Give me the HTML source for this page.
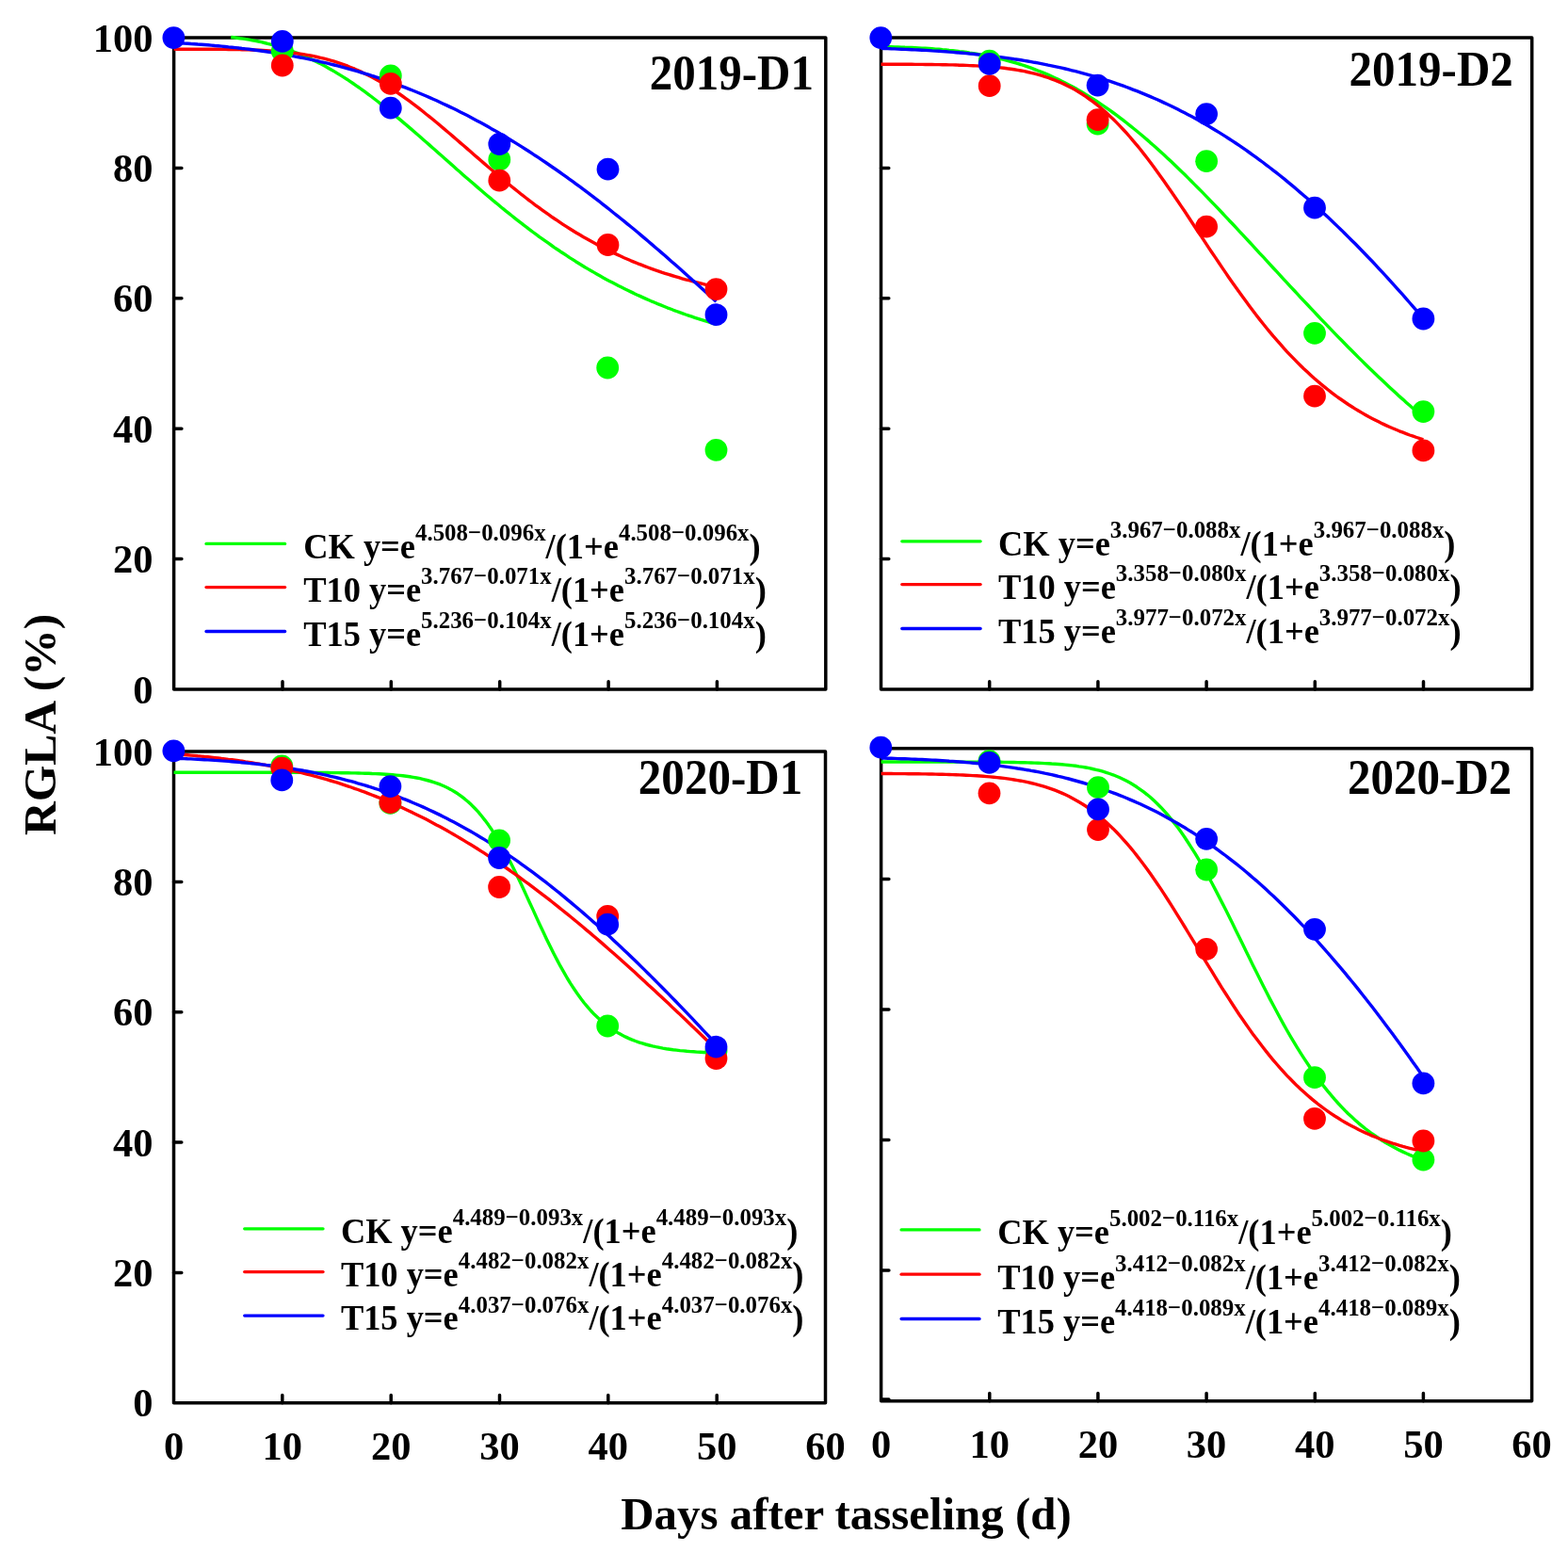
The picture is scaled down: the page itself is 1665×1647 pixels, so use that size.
<!DOCTYPE html>
<html><head><meta charset="utf-8"><title>RGLA</title><style>html,body{margin:0;padding:0;background:#fff;}body{width:1665px;height:1647px;overflow:hidden;}svg{display:block;}</style></head><body>
<svg width="1665" height="1647" viewBox="0 0 1665 1647">
<rect width="1665" height="1647" fill="#fff"/>
<path d="M184.6,593.6h8.3 M184.6,455.2h8.3 M184.6,316.8h8.3 M184.6,178.4h8.3 M300.0,732.0v-8.3 M415.3,732.0v-8.3 M530.7,732.0v-8.3 M646.1,732.0v-8.3 M761.4,732.0v-8.3" stroke="#000" stroke-width="3.5" stroke-linecap="round" fill="none"/>
<rect x="184.6" y="40.0" width="692.2" height="692.0" fill="none" stroke="#000" stroke-width="3.5" stroke-linejoin="round"/>
<path d="M935.5,593.6h8.3 M935.5,455.2h8.3 M935.5,316.8h8.3 M935.5,178.4h8.3 M1050.7,732.0v-8.3 M1165.9,732.0v-8.3 M1281.1,732.0v-8.3 M1396.3,732.0v-8.3 M1511.5,732.0v-8.3" stroke="#000" stroke-width="3.5" stroke-linecap="round" fill="none"/>
<rect x="935.5" y="40.0" width="691.2" height="692.0" fill="none" stroke="#000" stroke-width="3.5" stroke-linejoin="round"/>
<path d="M184.5,1351.4h8.3 M184.5,1213.1h8.3 M184.5,1074.7h8.3 M184.5,936.4h8.3 M299.8,1489.8v-8.3 M415.2,1489.8v-8.3 M530.5,1489.8v-8.3 M645.8,1489.8v-8.3 M761.2,1489.8v-8.3" stroke="#000" stroke-width="3.5" stroke-linecap="round" fill="none"/>
<rect x="184.5" y="798.0" width="692.0" height="691.8" fill="none" stroke="#000" stroke-width="3.5" stroke-linejoin="round"/>
<path d="M935.6,1349.1h8.3 M935.6,1210.5h8.3 M935.6,1072.0h8.3 M935.6,933.4h8.3 M1050.8,1487.7v-8.3 M1165.9,1487.7v-8.3 M1281.1,1487.7v-8.3 M1396.3,1487.7v-8.3 M1511.4,1487.7v-8.3 M935.6,1486.1h8.3" stroke="#000" stroke-width="3.5" stroke-linecap="round" fill="none"/>
<rect x="935.6" y="794.8" width="691.0" height="692.9" fill="none" stroke="#000" stroke-width="3.5" stroke-linejoin="round"/>
<text x="162.5" y="746.6" font-size="42.5" text-anchor="end" font-family="'Liberation Serif','Times New Roman',serif" font-weight="bold" >0</text>
<text x="162.5" y="608.2" font-size="42.5" text-anchor="end" font-family="'Liberation Serif','Times New Roman',serif" font-weight="bold" >20</text>
<text x="162.5" y="469.8" font-size="42.5" text-anchor="end" font-family="'Liberation Serif','Times New Roman',serif" font-weight="bold" >40</text>
<text x="162.5" y="331.4" font-size="42.5" text-anchor="end" font-family="'Liberation Serif','Times New Roman',serif" font-weight="bold" >60</text>
<text x="162.5" y="193.0" font-size="42.5" text-anchor="end" font-family="'Liberation Serif','Times New Roman',serif" font-weight="bold" >80</text>
<text x="162.5" y="54.6" font-size="42.5" text-anchor="end" font-family="'Liberation Serif','Times New Roman',serif" font-weight="bold" >100</text>
<text x="162.5" y="1504.4" font-size="42.5" text-anchor="end" font-family="'Liberation Serif','Times New Roman',serif" font-weight="bold" >0</text>
<text x="162.5" y="1366.1" font-size="42.5" text-anchor="end" font-family="'Liberation Serif','Times New Roman',serif" font-weight="bold" >20</text>
<text x="162.5" y="1227.7" font-size="42.5" text-anchor="end" font-family="'Liberation Serif','Times New Roman',serif" font-weight="bold" >40</text>
<text x="162.5" y="1089.3" font-size="42.5" text-anchor="end" font-family="'Liberation Serif','Times New Roman',serif" font-weight="bold" >60</text>
<text x="162.5" y="951.0" font-size="42.5" text-anchor="end" font-family="'Liberation Serif','Times New Roman',serif" font-weight="bold" >80</text>
<text x="162.5" y="812.6" font-size="42.5" text-anchor="end" font-family="'Liberation Serif','Times New Roman',serif" font-weight="bold" >100</text>
<text x="184.5" y="1549.9" font-size="42.5" text-anchor="middle" font-family="'Liberation Serif','Times New Roman',serif" font-weight="bold" >0</text>
<text x="299.8" y="1549.9" font-size="42.5" text-anchor="middle" font-family="'Liberation Serif','Times New Roman',serif" font-weight="bold" >10</text>
<text x="415.2" y="1549.9" font-size="42.5" text-anchor="middle" font-family="'Liberation Serif','Times New Roman',serif" font-weight="bold" >20</text>
<text x="530.5" y="1549.9" font-size="42.5" text-anchor="middle" font-family="'Liberation Serif','Times New Roman',serif" font-weight="bold" >30</text>
<text x="645.8" y="1549.9" font-size="42.5" text-anchor="middle" font-family="'Liberation Serif','Times New Roman',serif" font-weight="bold" >40</text>
<text x="761.2" y="1549.9" font-size="42.5" text-anchor="middle" font-family="'Liberation Serif','Times New Roman',serif" font-weight="bold" >50</text>
<text x="876.5" y="1549.9" font-size="42.5" text-anchor="middle" font-family="'Liberation Serif','Times New Roman',serif" font-weight="bold" >60</text>
<text x="935.6" y="1548.2" font-size="42.5" text-anchor="middle" font-family="'Liberation Serif','Times New Roman',serif" font-weight="bold" >0</text>
<text x="1050.8" y="1548.2" font-size="42.5" text-anchor="middle" font-family="'Liberation Serif','Times New Roman',serif" font-weight="bold" >10</text>
<text x="1165.9" y="1548.2" font-size="42.5" text-anchor="middle" font-family="'Liberation Serif','Times New Roman',serif" font-weight="bold" >20</text>
<text x="1281.1" y="1548.2" font-size="42.5" text-anchor="middle" font-family="'Liberation Serif','Times New Roman',serif" font-weight="bold" >30</text>
<text x="1396.3" y="1548.2" font-size="42.5" text-anchor="middle" font-family="'Liberation Serif','Times New Roman',serif" font-weight="bold" >40</text>
<text x="1511.4" y="1548.2" font-size="42.5" text-anchor="middle" font-family="'Liberation Serif','Times New Roman',serif" font-weight="bold" >50</text>
<text x="1626.6" y="1548.2" font-size="42.5" text-anchor="middle" font-family="'Liberation Serif','Times New Roman',serif" font-weight="bold" >60</text>
<text transform="translate(863.94,95.00) scale(0.925,1)" font-size="53.0" text-anchor="end" font-family="'Liberation Serif','Times New Roman',serif" font-weight="bold" >2019-D1</text>
<text transform="translate(1606.81,90.60) scale(0.925,1)" font-size="53.0" text-anchor="end" font-family="'Liberation Serif','Times New Roman',serif" font-weight="bold" >2019-D2</text>
<text transform="translate(852.14,843.00) scale(0.925,1)" font-size="53.0" text-anchor="end" font-family="'Liberation Serif','Times New Roman',serif" font-weight="bold" >2020-D1</text>
<text transform="translate(1605.31,842.60) scale(0.925,1)" font-size="53.0" text-anchor="end" font-family="'Liberation Serif','Times New Roman',serif" font-weight="bold" >2020-D2</text>
<path d="M219.0,577.4H302.6" stroke="#00ff00" stroke-width="3.3" stroke-linecap="round"/>
<text transform="translate(322.20,592.70) scale(0.958,1)" font-size="38.0" text-anchor="start" font-family="'Liberation Serif','Times New Roman',serif" font-weight="bold" >CK y=e<tspan font-size="26.0" dy="-18.8">4.508−0.096x</tspan><tspan dy="18.8">/(1+e</tspan><tspan font-size="26.0" dy="-18.8">4.508−0.096x</tspan><tspan dy="18.8">)</tspan></text>
<path d="M219.0,623.6H302.6" stroke="#ff0000" stroke-width="3.3" stroke-linecap="round"/>
<text transform="translate(322.20,638.90) scale(0.958,1)" font-size="38.0" text-anchor="start" font-family="'Liberation Serif','Times New Roman',serif" font-weight="bold" >T10 y=e<tspan font-size="26.0" dy="-18.8">3.767−0.071x</tspan><tspan dy="18.8">/(1+e</tspan><tspan font-size="26.0" dy="-18.8">3.767−0.071x</tspan><tspan dy="18.8">)</tspan></text>
<path d="M219.0,670.5H302.6" stroke="#0000ff" stroke-width="3.3" stroke-linecap="round"/>
<text transform="translate(322.20,685.80) scale(0.958,1)" font-size="38.0" text-anchor="start" font-family="'Liberation Serif','Times New Roman',serif" font-weight="bold" >T15 y=e<tspan font-size="26.0" dy="-18.8">5.236−0.104x</tspan><tspan dy="18.8">/(1+e</tspan><tspan font-size="26.0" dy="-18.8">5.236−0.104x</tspan><tspan dy="18.8">)</tspan></text>
<path d="M957.8,574.8H1041.1" stroke="#00ff00" stroke-width="3.3" stroke-linecap="round"/>
<text transform="translate(1060.00,590.10) scale(0.958,1)" font-size="38.0" text-anchor="start" font-family="'Liberation Serif','Times New Roman',serif" font-weight="bold" >CK y=e<tspan font-size="26.0" dy="-18.8">3.967−0.088x</tspan><tspan dy="18.8">/(1+e</tspan><tspan font-size="26.0" dy="-18.8">3.967−0.088x</tspan><tspan dy="18.8">)</tspan></text>
<path d="M957.8,620.6H1041.1" stroke="#ff0000" stroke-width="3.3" stroke-linecap="round"/>
<text transform="translate(1060.00,635.90) scale(0.958,1)" font-size="38.0" text-anchor="start" font-family="'Liberation Serif','Times New Roman',serif" font-weight="bold" >T10 y=e<tspan font-size="26.0" dy="-18.8">3.358−0.080x</tspan><tspan dy="18.8">/(1+e</tspan><tspan font-size="26.0" dy="-18.8">3.358−0.080x</tspan><tspan dy="18.8">)</tspan></text>
<path d="M957.8,667.5H1041.1" stroke="#0000ff" stroke-width="3.3" stroke-linecap="round"/>
<text transform="translate(1060.00,682.80) scale(0.958,1)" font-size="38.0" text-anchor="start" font-family="'Liberation Serif','Times New Roman',serif" font-weight="bold" >T15 y=e<tspan font-size="26.0" dy="-18.8">3.977−0.072x</tspan><tspan dy="18.8">/(1+e</tspan><tspan font-size="26.0" dy="-18.8">3.977−0.072x</tspan><tspan dy="18.8">)</tspan></text>
<path d="M259.7,1304.8H343.0" stroke="#00ff00" stroke-width="3.3" stroke-linecap="round"/>
<text transform="translate(361.90,1320.10) scale(0.958,1)" font-size="38.0" text-anchor="start" font-family="'Liberation Serif','Times New Roman',serif" font-weight="bold" >CK y=e<tspan font-size="26.0" dy="-18.8">4.489−0.093x</tspan><tspan dy="18.8">/(1+e</tspan><tspan font-size="26.0" dy="-18.8">4.489−0.093x</tspan><tspan dy="18.8">)</tspan></text>
<path d="M259.7,1350.6H343.0" stroke="#ff0000" stroke-width="3.3" stroke-linecap="round"/>
<text transform="translate(361.90,1365.90) scale(0.958,1)" font-size="38.0" text-anchor="start" font-family="'Liberation Serif','Times New Roman',serif" font-weight="bold" >T10 y=e<tspan font-size="26.0" dy="-18.8">4.482−0.082x</tspan><tspan dy="18.8">/(1+e</tspan><tspan font-size="26.0" dy="-18.8">4.482−0.082x</tspan><tspan dy="18.8">)</tspan></text>
<path d="M259.7,1397.1H343.0" stroke="#0000ff" stroke-width="3.3" stroke-linecap="round"/>
<text transform="translate(361.90,1412.40) scale(0.958,1)" font-size="38.0" text-anchor="start" font-family="'Liberation Serif','Times New Roman',serif" font-weight="bold" >T15 y=e<tspan font-size="26.0" dy="-18.8">4.037−0.076x</tspan><tspan dy="18.8">/(1+e</tspan><tspan font-size="26.0" dy="-18.8">4.037−0.076x</tspan><tspan dy="18.8">)</tspan></text>
<path d="M957.1,1305.9H1040.0" stroke="#00ff00" stroke-width="3.3" stroke-linecap="round"/>
<text transform="translate(1059.20,1321.20) scale(0.958,1)" font-size="38.0" text-anchor="start" font-family="'Liberation Serif','Times New Roman',serif" font-weight="bold" >CK y=e<tspan font-size="26.0" dy="-18.8">5.002−0.116x</tspan><tspan dy="18.8">/(1+e</tspan><tspan font-size="26.0" dy="-18.8">5.002−0.116x</tspan><tspan dy="18.8">)</tspan></text>
<path d="M957.1,1353.2H1040.0" stroke="#ff0000" stroke-width="3.3" stroke-linecap="round"/>
<text transform="translate(1059.20,1368.50) scale(0.958,1)" font-size="38.0" text-anchor="start" font-family="'Liberation Serif','Times New Roman',serif" font-weight="bold" >T10 y=e<tspan font-size="26.0" dy="-18.8">3.412−0.082x</tspan><tspan dy="18.8">/(1+e</tspan><tspan font-size="26.0" dy="-18.8">3.412−0.082x</tspan><tspan dy="18.8">)</tspan></text>
<path d="M957.1,1400.5H1040.0" stroke="#0000ff" stroke-width="3.3" stroke-linecap="round"/>
<text transform="translate(1059.20,1415.80) scale(0.958,1)" font-size="38.0" text-anchor="start" font-family="'Liberation Serif','Times New Roman',serif" font-weight="bold" >T15 y=e<tspan font-size="26.0" dy="-18.8">4.418−0.089x</tspan><tspan dy="18.8">/(1+e</tspan><tspan font-size="26.0" dy="-18.8">4.418−0.089x</tspan><tspan dy="18.8">)</tspan></text>
<path d="M245.2,39.5 L248.4,39.8 L251.7,40.2 L254.9,40.7 L258.2,41.1 L261.4,41.6 L264.6,42.2 L267.9,42.8 L271.1,43.4 L274.4,44.0 L277.6,44.7 L280.8,45.5 L284.1,46.3 L287.3,47.1 L290.6,48.0 L293.8,48.9 L297.1,49.9 L300.3,50.9 L303.5,51.9 L306.8,53.1 L310.0,54.2 L313.3,55.5 L316.5,56.7 L319.7,58.1 L323.0,59.4 L326.2,60.9 L329.5,62.4 L332.7,63.9 L335.9,65.5 L339.2,67.1 L342.4,68.8 L345.7,70.6 L348.9,72.4 L352.1,74.2 L355.4,76.1 L358.6,78.1 L361.9,80.1 L365.1,82.1 L368.4,84.2 L371.6,86.4 L374.8,88.5 L378.1,90.8 L381.3,93.0 L384.6,95.4 L387.8,97.7 L391.0,100.1 L394.3,102.5 L397.5,105.0 L400.8,107.5 L404.0,110.1 L407.2,112.6 L410.5,115.2 L413.7,117.9 L417.0,120.5 L420.2,123.2 L423.4,125.9 L426.7,128.6 L429.9,131.4 L433.2,134.1 L436.4,136.9 L439.7,139.7 L442.9,142.5 L446.1,145.3 L449.4,148.2 L452.6,151.0 L455.9,153.9 L459.1,156.7 L462.3,159.6 L465.6,162.5 L468.8,165.3 L472.1,168.2 L475.3,171.1 L478.5,173.9 L481.8,176.8 L485.0,179.7 L488.3,182.5 L491.5,185.4 L494.7,188.2 L498.0,191.0 L501.2,193.8 L504.5,196.6 L507.7,199.4 L511.0,202.2 L514.2,205.0 L517.4,207.7 L520.7,210.4 L523.9,213.2 L527.2,215.8 L530.4,218.5 L533.6,221.2 L536.9,223.8 L540.1,226.4 L543.4,229.0 L546.6,231.6 L549.8,234.1 L553.1,236.7 L556.3,239.2 L559.6,241.6 L562.8,244.1 L566.0,246.5 L569.3,248.9 L572.5,251.3 L575.8,253.6 L579.0,255.9 L582.3,258.2 L585.5,260.5 L588.7,262.8 L592.0,265.0 L595.2,267.2 L598.5,269.3 L601.7,271.4 L604.9,273.6 L608.2,275.6 L611.4,277.7 L614.7,279.7 L617.9,281.7 L621.1,283.7 L624.4,285.6 L627.6,287.5 L630.9,289.4 L634.1,291.3 L637.3,293.1 L640.6,294.9 L643.8,296.7 L647.1,298.4 L650.3,300.1 L653.6,301.8 L656.8,303.5 L660.0,305.1 L663.3,306.7 L666.5,308.3 L669.8,309.9 L673.0,311.4 L676.2,313.0 L679.5,314.4 L682.7,315.9 L686.0,317.4 L689.2,318.8 L692.4,320.2 L695.7,321.5 L698.9,322.9 L702.2,324.2 L705.4,325.5 L708.6,326.8 L711.9,328.0 L715.1,329.3 L718.4,330.5 L721.6,331.7 L724.9,332.8 L728.1,334.0 L731.3,335.1 L734.6,336.2 L737.8,337.3 L741.1,338.4 L744.3,339.4 L747.5,340.4 L750.8,341.4 L754.0,342.4 L757.3,343.4 L760.5,344.4" fill="none" stroke="#00ff00" stroke-width="3.4" stroke-linejoin="round" stroke-linecap="butt"/>
<path d="M184.6,52.1 L188.2,52.2 L191.8,52.2 L195.5,52.2 L199.1,52.2 L202.7,52.2 L206.3,52.2 L210.0,52.2 L213.6,52.2 L217.2,52.2 L220.8,52.2 L224.4,52.3 L228.1,52.3 L231.7,52.3 L235.3,52.4 L238.9,52.4 L242.6,52.5 L246.2,52.5 L249.8,52.6 L253.4,52.6 L257.0,52.7 L260.7,52.8 L264.3,52.9 L267.9,53.0 L271.5,53.2 L275.2,53.3 L278.8,53.5 L282.4,53.7 L286.0,53.9 L289.6,54.1 L293.3,54.4 L296.9,54.7 L300.5,55.0 L304.1,55.4 L307.7,55.8 L311.4,56.2 L315.0,56.7 L318.6,57.2 L322.2,57.7 L325.9,58.4 L329.5,59.0 L333.1,59.7 L336.7,60.5 L340.3,61.3 L344.0,62.2 L347.6,63.1 L351.2,64.2 L354.8,65.2 L358.5,66.4 L362.1,67.6 L365.7,68.9 L369.3,70.2 L372.9,71.7 L376.6,73.2 L380.2,74.8 L383.8,76.4 L387.4,78.2 L391.1,80.0 L394.7,81.8 L398.3,83.8 L401.9,85.8 L405.5,87.9 L409.2,90.1 L412.8,92.4 L416.4,94.7 L420.0,97.1 L423.7,99.5 L427.3,102.0 L430.9,104.6 L434.5,107.2 L438.1,109.9 L441.8,112.7 L445.4,115.4 L449.0,118.3 L452.6,121.2 L456.3,124.1 L459.9,127.0 L463.5,130.0 L467.1,133.0 L470.7,136.1 L474.4,139.2 L478.0,142.3 L481.6,145.4 L485.2,148.5 L488.8,151.6 L492.5,154.8 L496.1,157.9 L499.7,161.1 L503.3,164.2 L507.0,167.4 L510.6,170.5 L514.2,173.6 L517.8,176.7 L521.4,179.8 L525.1,182.9 L528.7,186.0 L532.3,189.0 L535.9,192.0 L539.6,195.0 L543.2,198.0 L546.8,200.9 L550.4,203.8 L554.0,206.7 L557.7,209.5 L561.3,212.3 L564.9,215.0 L568.5,217.8 L572.2,220.4 L575.8,223.1 L579.4,225.7 L583.0,228.2 L586.6,230.8 L590.3,233.2 L593.9,235.7 L597.5,238.1 L601.1,240.4 L604.8,242.7 L608.4,245.0 L612.0,247.2 L615.6,249.3 L619.2,251.5 L622.9,253.6 L626.5,255.6 L630.1,257.6 L633.7,259.5 L637.4,261.5 L641.0,263.3 L644.6,265.1 L648.2,266.9 L651.8,268.7 L655.5,270.4 L659.1,272.0 L662.7,273.7 L666.3,275.2 L669.9,276.8 L673.6,278.3 L677.2,279.8 L680.8,281.2 L684.4,282.6 L688.1,284.0 L691.7,285.3 L695.3,286.6 L698.9,287.8 L702.5,289.1 L706.2,290.3 L709.8,291.4 L713.4,292.5 L717.0,293.6 L720.7,294.7 L724.3,295.8 L727.9,296.8 L731.5,297.7 L735.1,298.7 L738.8,299.6 L742.4,300.5 L746.0,301.4 L749.6,302.3 L753.3,303.1 L756.9,303.9 L760.5,304.7" fill="none" stroke="#ff0000" stroke-width="3.4" stroke-linejoin="round" stroke-linecap="butt"/>
<path d="M184.6,45.3 L188.2,45.5 L191.8,45.7 L195.5,46.0 L199.1,46.2 L202.7,46.5 L206.3,46.7 L210.0,47.0 L213.6,47.2 L217.2,47.5 L220.8,47.8 L224.4,48.1 L228.1,48.5 L231.7,48.8 L235.3,49.1 L238.9,49.5 L242.6,49.9 L246.2,50.2 L249.8,50.6 L253.4,51.0 L257.0,51.5 L260.7,51.9 L264.3,52.3 L267.9,52.8 L271.5,53.3 L275.2,53.8 L278.8,54.3 L282.4,54.8 L286.0,55.3 L289.6,55.9 L293.3,56.5 L296.9,57.1 L300.5,57.7 L304.1,58.3 L307.7,58.9 L311.4,59.6 L315.0,60.3 L318.6,61.0 L322.2,61.7 L325.9,62.4 L329.5,63.2 L333.1,63.9 L336.7,64.7 L340.3,65.6 L344.0,66.4 L347.6,67.2 L351.2,68.1 L354.8,69.0 L358.5,69.9 L362.1,70.9 L365.7,71.8 L369.3,72.8 L372.9,73.8 L376.6,74.9 L380.2,75.9 L383.8,77.0 L387.4,78.1 L391.1,79.2 L394.7,80.4 L398.3,81.5 L401.9,82.7 L405.5,83.9 L409.2,85.2 L412.8,86.4 L416.4,87.7 L420.0,89.1 L423.7,90.4 L427.3,91.8 L430.9,93.2 L434.5,94.6 L438.1,96.0 L441.8,97.5 L445.4,99.0 L449.0,100.5 L452.6,102.0 L456.3,103.6 L459.9,105.2 L463.5,106.8 L467.1,108.5 L470.7,110.2 L474.4,111.9 L478.0,113.6 L481.6,115.3 L485.2,117.1 L488.8,118.9 L492.5,120.8 L496.1,122.6 L499.7,124.5 L503.3,126.4 L507.0,128.4 L510.6,130.3 L514.2,132.3 L517.8,134.3 L521.4,136.4 L525.1,138.4 L528.7,140.5 L532.3,142.7 L535.9,144.8 L539.6,147.0 L543.2,149.2 L546.8,151.4 L550.4,153.6 L554.0,155.9 L557.7,158.2 L561.3,160.5 L564.9,162.9 L568.5,165.3 L572.2,167.6 L575.8,170.1 L579.4,172.5 L583.0,175.0 L586.6,177.5 L590.3,180.0 L593.9,182.5 L597.5,185.1 L601.1,187.7 L604.8,190.3 L608.4,192.9 L612.0,195.6 L615.6,198.2 L619.2,200.9 L622.9,203.7 L626.5,206.4 L630.1,209.2 L633.7,211.9 L637.4,214.7 L641.0,217.6 L644.6,220.4 L648.2,223.3 L651.8,226.2 L655.5,229.1 L659.1,232.0 L662.7,234.9 L666.3,237.9 L669.9,240.8 L673.6,243.8 L677.2,246.8 L680.8,249.9 L684.4,252.9 L688.1,256.0 L691.7,259.1 L695.3,262.2 L698.9,265.3 L702.5,268.4 L706.2,271.5 L709.8,274.7 L713.4,277.9 L717.0,281.0 L720.7,284.2 L724.3,287.4 L727.9,290.7 L731.5,293.9 L735.1,297.2 L738.8,300.4 L742.4,303.7 L746.0,307.0 L749.6,310.3 L753.3,313.6 L756.9,316.9 L760.5,320.2" fill="none" stroke="#0000ff" stroke-width="3.4" stroke-linejoin="round" stroke-linecap="butt"/>
<path d="M935.5,49.6 L939.1,49.6 L942.7,49.7 L946.4,49.8 L950.0,49.9 L953.6,50.0 L957.2,50.1 L960.9,50.3 L964.5,50.4 L968.1,50.5 L971.7,50.7 L975.3,50.9 L979.0,51.1 L982.6,51.3 L986.2,51.5 L989.8,51.8 L993.5,52.1 L997.1,52.3 L1000.7,52.7 L1004.3,53.0 L1007.9,53.4 L1011.6,53.7 L1015.2,54.1 L1018.8,54.6 L1022.4,55.0 L1026.1,55.5 L1029.7,56.1 L1033.3,56.6 L1036.9,57.2 L1040.5,57.9 L1044.2,58.5 L1047.8,59.2 L1051.4,60.0 L1055.0,60.7 L1058.6,61.6 L1062.3,62.4 L1065.9,63.3 L1069.5,64.3 L1073.1,65.3 L1076.8,66.3 L1080.4,67.4 L1084.0,68.5 L1087.6,69.7 L1091.2,70.9 L1094.9,72.2 L1098.5,73.6 L1102.1,75.0 L1105.7,76.4 L1109.4,77.9 L1113.0,79.4 L1116.6,81.0 L1120.2,82.7 L1123.8,84.4 L1127.5,86.2 L1131.1,88.0 L1134.7,89.9 L1138.3,91.8 L1142.0,93.8 L1145.6,95.9 L1149.2,98.0 L1152.8,100.2 L1156.4,102.4 L1160.1,104.7 L1163.7,107.0 L1167.3,109.4 L1170.9,111.8 L1174.6,114.3 L1178.2,116.9 L1181.8,119.5 L1185.4,122.2 L1189.0,124.9 L1192.7,127.6 L1196.3,130.5 L1199.9,133.3 L1203.5,136.2 L1207.2,139.2 L1210.8,142.2 L1214.4,145.3 L1218.0,148.4 L1221.6,151.6 L1225.3,154.7 L1228.9,158.0 L1232.5,161.3 L1236.1,164.6 L1239.7,167.9 L1243.4,171.3 L1247.0,174.8 L1250.6,178.3 L1254.2,181.8 L1257.9,185.3 L1261.5,188.9 L1265.1,192.5 L1268.7,196.1 L1272.3,199.7 L1276.0,203.4 L1279.6,207.1 L1283.2,210.9 L1286.8,214.6 L1290.5,218.4 L1294.1,222.2 L1297.7,226.0 L1301.3,229.8 L1304.9,233.7 L1308.6,237.5 L1312.2,241.4 L1315.8,245.3 L1319.4,249.2 L1323.1,253.1 L1326.7,257.0 L1330.3,260.9 L1333.9,264.8 L1337.5,268.8 L1341.2,272.7 L1344.8,276.6 L1348.4,280.6 L1352.0,284.5 L1355.7,288.4 L1359.3,292.3 L1362.9,296.3 L1366.5,300.2 L1370.1,304.1 L1373.8,308.0 L1377.4,311.9 L1381.0,315.8 L1384.6,319.6 L1388.3,323.5 L1391.9,327.4 L1395.5,331.2 L1399.1,335.0 L1402.7,338.8 L1406.4,342.6 L1410.0,346.4 L1413.6,350.2 L1417.2,353.9 L1420.8,357.6 L1424.5,361.3 L1428.1,365.0 L1431.7,368.7 L1435.3,372.3 L1439.0,376.0 L1442.6,379.6 L1446.2,383.1 L1449.8,386.7 L1453.4,390.2 L1457.1,393.7 L1460.7,397.2 L1464.3,400.7 L1467.9,404.1 L1471.6,407.5 L1475.2,410.9 L1478.8,414.2 L1482.4,417.6 L1486.0,420.9 L1489.7,424.1 L1493.3,427.4 L1496.9,430.6 L1500.5,433.8 L1504.2,436.9 L1507.8,440.1 L1511.4,443.2" fill="none" stroke="#00ff00" stroke-width="3.4" stroke-linejoin="round" stroke-linecap="butt"/>
<path d="M935.5,68.2 L939.1,68.2 L942.7,68.2 L946.4,68.2 L950.0,68.3 L953.6,68.3 L957.2,68.3 L960.9,68.3 L964.5,68.3 L968.1,68.3 L971.7,68.4 L975.3,68.4 L979.0,68.4 L982.6,68.5 L986.2,68.5 L989.8,68.5 L993.5,68.6 L997.1,68.6 L1000.7,68.7 L1004.3,68.8 L1007.9,68.9 L1011.6,68.9 L1015.2,69.0 L1018.8,69.2 L1022.4,69.3 L1026.1,69.4 L1029.7,69.6 L1033.3,69.7 L1036.9,69.9 L1040.5,70.1 L1044.2,70.4 L1047.8,70.6 L1051.4,70.9 L1055.0,71.2 L1058.6,71.5 L1062.3,71.9 L1065.9,72.3 L1069.5,72.8 L1073.1,73.2 L1076.8,73.8 L1080.4,74.4 L1084.0,75.0 L1087.6,75.7 L1091.2,76.5 L1094.9,77.3 L1098.5,78.2 L1102.1,79.1 L1105.7,80.2 L1109.4,81.3 L1113.0,82.5 L1116.6,83.8 L1120.2,85.1 L1123.8,86.6 L1127.5,88.2 L1131.1,89.9 L1134.7,91.7 L1138.3,93.6 L1142.0,95.6 L1145.6,97.8 L1149.2,100.0 L1152.8,102.4 L1156.4,105.0 L1160.1,107.6 L1163.7,110.4 L1167.3,113.3 L1170.9,116.4 L1174.6,119.5 L1178.2,122.9 L1181.8,126.3 L1185.4,129.9 L1189.0,133.6 L1192.7,137.5 L1196.3,141.4 L1199.9,145.5 L1203.5,149.8 L1207.2,154.1 L1210.8,158.5 L1214.4,163.1 L1218.0,167.8 L1221.6,172.5 L1225.3,177.4 L1228.9,182.4 L1232.5,187.4 L1236.1,192.5 L1239.7,197.7 L1243.4,202.9 L1247.0,208.2 L1250.6,213.5 L1254.2,218.9 L1257.9,224.3 L1261.5,229.8 L1265.1,235.2 L1268.7,240.7 L1272.3,246.2 L1276.0,251.6 L1279.6,257.1 L1283.2,262.6 L1286.8,268.0 L1290.5,273.4 L1294.1,278.8 L1297.7,284.1 L1301.3,289.4 L1304.9,294.7 L1308.6,299.9 L1312.2,305.0 L1315.8,310.1 L1319.4,315.1 L1323.1,320.1 L1326.7,325.0 L1330.3,329.8 L1333.9,334.5 L1337.5,339.1 L1341.2,343.7 L1344.8,348.2 L1348.4,352.6 L1352.0,356.9 L1355.7,361.1 L1359.3,365.2 L1362.9,369.3 L1366.5,373.3 L1370.1,377.1 L1373.8,380.9 L1377.4,384.6 L1381.0,388.2 L1384.6,391.7 L1388.3,395.1 L1391.9,398.4 L1395.5,401.7 L1399.1,404.8 L1402.7,407.9 L1406.4,410.9 L1410.0,413.8 L1413.6,416.6 L1417.2,419.3 L1420.8,422.0 L1424.5,424.5 L1428.1,427.0 L1431.7,429.5 L1435.3,431.8 L1439.0,434.1 L1442.6,436.3 L1446.2,438.4 L1449.8,440.5 L1453.4,442.5 L1457.1,444.4 L1460.7,446.3 L1464.3,448.1 L1467.9,449.9 L1471.6,451.6 L1475.2,453.2 L1478.8,454.8 L1482.4,456.3 L1486.0,457.8 L1489.7,459.2 L1493.3,460.6 L1496.9,462.0 L1500.5,463.2 L1504.2,464.5 L1507.8,465.7 L1511.4,466.8" fill="none" stroke="#ff0000" stroke-width="3.4" stroke-linejoin="round" stroke-linecap="butt"/>
<path d="M935.5,51.4 L939.1,51.5 L942.7,51.6 L946.4,51.8 L950.0,51.9 L953.6,52.1 L957.2,52.2 L960.9,52.4 L964.5,52.5 L968.1,52.7 L971.7,52.9 L975.3,53.0 L979.0,53.2 L982.6,53.4 L986.2,53.6 L989.8,53.9 L993.5,54.1 L997.1,54.3 L1000.7,54.6 L1004.3,54.8 L1007.9,55.1 L1011.6,55.4 L1015.2,55.7 L1018.8,56.0 L1022.4,56.3 L1026.1,56.6 L1029.7,57.0 L1033.3,57.3 L1036.9,57.7 L1040.5,58.1 L1044.2,58.5 L1047.8,58.9 L1051.4,59.3 L1055.0,59.7 L1058.6,60.2 L1062.3,60.6 L1065.9,61.1 L1069.5,61.6 L1073.1,62.1 L1076.8,62.7 L1080.4,63.2 L1084.0,63.8 L1087.6,64.4 L1091.2,65.0 L1094.9,65.6 L1098.5,66.3 L1102.1,66.9 L1105.7,67.6 L1109.4,68.3 L1113.0,69.1 L1116.6,69.8 L1120.2,70.6 L1123.8,71.4 L1127.5,72.2 L1131.1,73.0 L1134.7,73.9 L1138.3,74.8 L1142.0,75.7 L1145.6,76.6 L1149.2,77.6 L1152.8,78.6 L1156.4,79.6 L1160.1,80.6 L1163.7,81.7 L1167.3,82.8 L1170.9,83.9 L1174.6,85.0 L1178.2,86.2 L1181.8,87.4 L1185.4,88.7 L1189.0,89.9 L1192.7,91.2 L1196.3,92.5 L1199.9,93.9 L1203.5,95.3 L1207.2,96.7 L1210.8,98.1 L1214.4,99.6 L1218.0,101.1 L1221.6,102.6 L1225.3,104.2 L1228.9,105.8 L1232.5,107.4 L1236.1,109.1 L1239.7,110.8 L1243.4,112.5 L1247.0,114.3 L1250.6,116.1 L1254.2,117.9 L1257.9,119.8 L1261.5,121.7 L1265.1,123.6 L1268.7,125.6 L1272.3,127.6 L1276.0,129.6 L1279.6,131.7 L1283.2,133.8 L1286.8,136.0 L1290.5,138.2 L1294.1,140.4 L1297.7,142.6 L1301.3,144.9 L1304.9,147.2 L1308.6,149.6 L1312.2,152.0 L1315.8,154.4 L1319.4,156.9 L1323.1,159.4 L1326.7,162.0 L1330.3,164.6 L1333.9,167.2 L1337.5,169.8 L1341.2,172.5 L1344.8,175.3 L1348.4,178.0 L1352.0,180.8 L1355.7,183.7 L1359.3,186.5 L1362.9,189.4 L1366.5,192.4 L1370.1,195.4 L1373.8,198.4 L1377.4,201.5 L1381.0,204.6 L1384.6,207.7 L1388.3,210.8 L1391.9,214.0 L1395.5,217.3 L1399.1,220.6 L1402.7,223.9 L1406.4,227.2 L1410.0,230.6 L1413.6,234.0 L1417.2,237.4 L1420.8,240.9 L1424.5,244.4 L1428.1,248.0 L1431.7,251.6 L1435.3,255.2 L1439.0,258.8 L1442.6,262.5 L1446.2,266.2 L1449.8,270.0 L1453.4,273.7 L1457.1,277.5 L1460.7,281.4 L1464.3,285.3 L1467.9,289.2 L1471.6,293.1 L1475.2,297.1 L1478.8,301.1 L1482.4,305.1 L1486.0,309.1 L1489.7,313.2 L1493.3,317.3 L1496.9,321.5 L1500.5,325.6 L1504.2,329.8 L1507.8,334.1 L1511.4,338.3" fill="none" stroke="#0000ff" stroke-width="3.4" stroke-linejoin="round" stroke-linecap="butt"/>
<path d="M184.5,820.3 L188.1,820.3 L191.8,820.3 L195.4,820.3 L199.0,820.3 L202.7,820.3 L206.3,820.3 L209.9,820.3 L213.6,820.3 L217.2,820.3 L220.8,820.3 L224.5,820.3 L228.1,820.3 L231.7,820.3 L235.3,820.3 L239.0,820.3 L242.6,820.3 L246.2,820.3 L249.9,820.3 L253.5,820.3 L257.1,820.3 L260.8,820.3 L264.4,820.3 L268.0,820.3 L271.7,820.3 L275.3,820.3 L278.9,820.3 L282.6,820.3 L286.2,820.3 L289.8,820.3 L293.5,820.3 L297.1,820.3 L300.7,820.3 L304.4,820.3 L308.0,820.3 L311.6,820.4 L315.3,820.4 L318.9,820.4 L322.5,820.4 L326.2,820.4 L329.8,820.4 L333.4,820.4 L337.0,820.5 L340.7,820.5 L344.3,820.5 L347.9,820.5 L351.6,820.6 L355.2,820.6 L358.8,820.6 L362.5,820.7 L366.1,820.7 L369.7,820.8 L373.4,820.9 L377.0,820.9 L380.6,821.0 L384.3,821.1 L387.9,821.2 L391.5,821.3 L395.2,821.5 L398.8,821.6 L402.4,821.8 L406.1,822.0 L409.7,822.2 L413.3,822.5 L417.0,822.8 L420.6,823.1 L424.2,823.4 L427.8,823.8 L431.5,824.3 L435.1,824.8 L438.7,825.4 L442.4,826.0 L446.0,826.7 L449.6,827.6 L453.3,828.5 L456.9,829.5 L460.5,830.6 L464.2,831.8 L467.8,833.2 L471.4,834.8 L475.1,836.5 L478.7,838.4 L482.3,840.5 L486.0,842.8 L489.6,845.4 L493.2,848.2 L496.9,851.3 L500.5,854.6 L504.1,858.3 L507.8,862.2 L511.4,866.5 L515.0,871.1 L518.7,876.1 L522.3,881.3 L525.9,887.0 L529.5,892.9 L533.2,899.2 L536.8,905.7 L540.4,912.6 L544.1,919.7 L547.7,927.0 L551.3,934.6 L555.0,942.3 L558.6,950.1 L562.2,958.0 L565.9,965.9 L569.5,973.9 L573.1,981.7 L576.8,989.5 L580.4,997.2 L584.0,1004.6 L587.7,1011.9 L591.3,1018.9 L594.9,1025.7 L598.6,1032.2 L602.2,1038.5 L605.8,1044.4 L609.5,1050.0 L613.1,1055.3 L616.7,1060.3 L620.3,1065.0 L624.0,1069.4 L627.6,1073.5 L631.2,1077.3 L634.9,1080.8 L638.5,1084.1 L642.1,1087.1 L645.8,1089.9 L649.4,1092.5 L653.0,1094.9 L656.7,1097.1 L660.3,1099.1 L663.9,1100.9 L667.6,1102.6 L671.2,1104.1 L674.8,1105.5 L678.5,1106.8 L682.1,1107.9 L685.7,1109.0 L689.4,1110.0 L693.0,1110.9 L696.6,1111.7 L700.3,1112.4 L703.9,1113.1 L707.5,1113.7 L711.2,1114.2 L714.8,1114.7 L718.4,1115.1 L722.0,1115.6 L725.7,1115.9 L729.3,1116.3 L732.9,1116.6 L736.6,1116.8 L740.2,1117.1 L743.8,1117.3 L747.5,1117.5 L751.1,1117.7 L754.7,1117.9 L758.4,1118.0 L762.0,1118.2" fill="none" stroke="#00ff00" stroke-width="3.4" stroke-linejoin="round" stroke-linecap="butt"/>
<path d="M184.5,800.7 L188.1,801.0 L191.7,801.2 L195.4,801.5 L199.0,801.8 L202.6,802.1 L206.2,802.4 L209.9,802.8 L213.5,803.1 L217.1,803.5 L220.7,803.8 L224.3,804.2 L228.0,804.6 L231.6,805.0 L235.2,805.5 L238.8,805.9 L242.5,806.4 L246.1,806.8 L249.7,807.3 L253.3,807.8 L257.0,808.3 L260.6,808.9 L264.2,809.4 L267.8,810.0 L271.4,810.6 L275.1,811.2 L278.7,811.9 L282.3,812.5 L285.9,813.2 L289.6,813.9 L293.2,814.6 L296.8,815.3 L300.4,816.1 L304.0,816.8 L307.7,817.6 L311.3,818.5 L314.9,819.3 L318.5,820.2 L322.2,821.0 L325.8,822.0 L329.4,822.9 L333.0,823.8 L336.7,824.8 L340.3,825.8 L343.9,826.9 L347.5,827.9 L351.1,829.0 L354.8,830.1 L358.4,831.2 L362.0,832.4 L365.6,833.6 L369.3,834.8 L372.9,836.0 L376.5,837.3 L380.1,838.5 L383.7,839.9 L387.4,841.2 L391.0,842.6 L394.6,844.0 L398.2,845.4 L401.9,846.8 L405.5,848.3 L409.1,849.8 L412.7,851.4 L416.3,852.9 L420.0,854.5 L423.6,856.1 L427.2,857.8 L430.8,859.5 L434.5,861.2 L438.1,862.9 L441.7,864.7 L445.3,866.5 L449.0,868.3 L452.6,870.1 L456.2,872.0 L459.8,873.9 L463.4,875.9 L467.1,877.8 L470.7,879.8 L474.3,881.8 L477.9,883.9 L481.6,886.0 L485.2,888.1 L488.8,890.2 L492.4,892.4 L496.0,894.6 L499.7,896.8 L503.3,899.0 L506.9,901.3 L510.5,903.6 L514.2,905.9 L517.8,908.3 L521.4,910.7 L525.0,913.1 L528.7,915.5 L532.3,918.0 L535.9,920.5 L539.5,923.0 L543.1,925.6 L546.8,928.1 L550.4,930.7 L554.0,933.3 L557.6,936.0 L561.3,938.7 L564.9,941.4 L568.5,944.1 L572.1,946.8 L575.7,949.6 L579.4,952.4 L583.0,955.2 L586.6,958.0 L590.2,960.9 L593.9,963.8 L597.5,966.7 L601.1,969.6 L604.7,972.5 L608.3,975.5 L612.0,978.5 L615.6,981.5 L619.2,984.5 L622.8,987.6 L626.5,990.6 L630.1,993.7 L633.7,996.8 L637.3,999.9 L641.0,1003.1 L644.6,1006.2 L648.2,1009.4 L651.8,1012.6 L655.4,1015.8 L659.1,1019.0 L662.7,1022.3 L666.3,1025.5 L669.9,1028.8 L673.6,1032.1 L677.2,1035.4 L680.8,1038.7 L684.4,1042.0 L688.0,1045.4 L691.7,1048.7 L695.3,1052.1 L698.9,1055.5 L702.5,1058.8 L706.2,1062.2 L709.8,1065.6 L713.4,1069.1 L717.0,1072.5 L720.7,1075.9 L724.3,1079.4 L727.9,1082.8 L731.5,1086.3 L735.1,1089.8 L738.8,1093.2 L742.4,1096.7 L746.0,1100.2 L749.6,1103.7 L753.3,1107.2 L756.9,1110.8 L760.5,1114.3" fill="none" stroke="#ff0000" stroke-width="3.4" stroke-linejoin="round" stroke-linecap="butt"/>
<path d="M184.5,805.2 L188.1,805.3 L191.7,805.5 L195.4,805.6 L199.0,805.8 L202.6,805.9 L206.2,806.1 L209.9,806.3 L213.5,806.5 L217.1,806.7 L220.7,806.9 L224.3,807.1 L228.0,807.4 L231.6,807.6 L235.2,807.9 L238.8,808.1 L242.5,808.4 L246.1,808.7 L249.7,809.0 L253.3,809.3 L257.0,809.7 L260.6,810.0 L264.2,810.4 L267.8,810.7 L271.4,811.1 L275.1,811.5 L278.7,811.9 L282.3,812.4 L285.9,812.8 L289.6,813.3 L293.2,813.8 L296.8,814.3 L300.4,814.8 L304.0,815.3 L307.7,815.9 L311.3,816.5 L314.9,817.1 L318.5,817.7 L322.2,818.3 L325.8,819.0 L329.4,819.7 L333.0,820.4 L336.7,821.1 L340.3,821.9 L343.9,822.7 L347.5,823.4 L351.1,824.3 L354.8,825.1 L358.4,826.0 L362.0,826.9 L365.6,827.8 L369.3,828.8 L372.9,829.7 L376.5,830.7 L380.1,831.8 L383.7,832.8 L387.4,833.9 L391.0,835.0 L394.6,836.2 L398.2,837.3 L401.9,838.5 L405.5,839.8 L409.1,841.0 L412.7,842.3 L416.3,843.6 L420.0,845.0 L423.6,846.3 L427.2,847.8 L430.8,849.2 L434.5,850.7 L438.1,852.2 L441.7,853.7 L445.3,855.3 L449.0,856.9 L452.6,858.5 L456.2,860.2 L459.8,861.9 L463.4,863.6 L467.1,865.4 L470.7,867.2 L474.3,869.0 L477.9,870.9 L481.6,872.8 L485.2,874.7 L488.8,876.7 L492.4,878.7 L496.0,880.7 L499.7,882.8 L503.3,884.9 L506.9,887.0 L510.5,889.2 L514.2,891.4 L517.8,893.6 L521.4,895.9 L525.0,898.2 L528.7,900.5 L532.3,902.9 L535.9,905.3 L539.5,907.7 L543.1,910.2 L546.8,912.7 L550.4,915.2 L554.0,917.8 L557.6,920.4 L561.3,923.1 L564.9,925.7 L568.5,928.4 L572.1,931.1 L575.7,933.9 L579.4,936.7 L583.0,939.5 L586.6,942.4 L590.2,945.3 L593.9,948.2 L597.5,951.1 L601.1,954.1 L604.7,957.1 L608.3,960.1 L612.0,963.2 L615.6,966.3 L619.2,969.4 L622.8,972.5 L626.5,975.7 L630.1,978.9 L633.7,982.1 L637.3,985.4 L641.0,988.7 L644.6,992.0 L648.2,995.3 L651.8,998.7 L655.4,1002.0 L659.1,1005.5 L662.7,1008.9 L666.3,1012.3 L669.9,1015.8 L673.6,1019.3 L677.2,1022.8 L680.8,1026.4 L684.4,1029.9 L688.0,1033.5 L691.7,1037.1 L695.3,1040.7 L698.9,1044.4 L702.5,1048.0 L706.2,1051.7 L709.8,1055.4 L713.4,1059.1 L717.0,1062.8 L720.7,1066.6 L724.3,1070.4 L727.9,1074.1 L731.5,1077.9 L735.1,1081.7 L738.8,1085.6 L742.4,1089.4 L746.0,1093.3 L749.6,1097.1 L753.3,1101.0 L756.9,1104.9 L760.5,1108.8" fill="none" stroke="#0000ff" stroke-width="3.4" stroke-linejoin="round" stroke-linecap="butt"/>
<path d="M935.6,809.0 L939.2,809.0 L942.8,809.0 L946.5,809.0 L950.1,809.0 L953.7,809.0 L957.3,809.0 L960.9,809.0 L964.6,809.0 L968.2,809.0 L971.8,809.0 L975.4,809.0 L979.1,809.0 L982.7,809.0 L986.3,809.0 L989.9,809.0 L993.5,809.0 L997.2,809.0 L1000.8,809.0 L1004.4,809.0 L1008.0,809.0 L1011.6,809.0 L1015.3,809.1 L1018.9,809.1 L1022.5,809.1 L1026.1,809.1 L1029.8,809.1 L1033.4,809.1 L1037.0,809.1 L1040.6,809.1 L1044.2,809.2 L1047.9,809.2 L1051.5,809.2 L1055.1,809.2 L1058.7,809.3 L1062.3,809.3 L1066.0,809.4 L1069.6,809.4 L1073.2,809.5 L1076.8,809.5 L1080.5,809.6 L1084.1,809.7 L1087.7,809.8 L1091.3,809.9 L1094.9,810.0 L1098.6,810.1 L1102.2,810.2 L1105.8,810.4 L1109.4,810.6 L1113.0,810.7 L1116.7,811.0 L1120.3,811.2 L1123.9,811.5 L1127.5,811.8 L1131.2,812.1 L1134.8,812.5 L1138.4,812.9 L1142.0,813.3 L1145.6,813.9 L1149.3,814.4 L1152.9,815.0 L1156.5,815.7 L1160.1,816.5 L1163.7,817.3 L1167.4,818.2 L1171.0,819.2 L1174.6,820.3 L1178.2,821.5 L1181.9,822.8 L1185.5,824.3 L1189.1,825.8 L1192.7,827.5 L1196.3,829.3 L1200.0,831.3 L1203.6,833.5 L1207.2,835.8 L1210.8,838.3 L1214.4,840.9 L1218.1,843.8 L1221.7,846.8 L1225.3,850.1 L1228.9,853.5 L1232.6,857.2 L1236.2,861.1 L1239.8,865.2 L1243.4,869.5 L1247.0,874.1 L1250.7,878.8 L1254.3,883.8 L1257.9,889.0 L1261.5,894.5 L1265.1,900.1 L1268.8,905.9 L1272.4,911.9 L1276.0,918.1 L1279.6,924.5 L1283.3,931.1 L1286.9,937.8 L1290.5,944.6 L1294.1,951.6 L1297.7,958.6 L1301.4,965.8 L1305.0,973.0 L1308.6,980.3 L1312.2,987.7 L1315.8,995.1 L1319.5,1002.5 L1323.1,1009.9 L1326.7,1017.3 L1330.3,1024.7 L1334.0,1032.0 L1337.6,1039.3 L1341.2,1046.5 L1344.8,1053.6 L1348.4,1060.6 L1352.1,1067.5 L1355.7,1074.3 L1359.3,1081.0 L1362.9,1087.6 L1366.5,1094.0 L1370.2,1100.3 L1373.8,1106.4 L1377.4,1112.4 L1381.0,1118.2 L1384.7,1123.9 L1388.3,1129.3 L1391.9,1134.7 L1395.5,1139.8 L1399.1,1144.9 L1402.8,1149.7 L1406.4,1154.4 L1410.0,1158.9 L1413.6,1163.2 L1417.2,1167.4 L1420.9,1171.5 L1424.5,1175.3 L1428.1,1179.1 L1431.7,1182.7 L1435.4,1186.1 L1439.0,1189.4 L1442.6,1192.6 L1446.2,1195.6 L1449.8,1198.5 L1453.5,1201.3 L1457.1,1204.0 L1460.7,1206.5 L1464.3,1208.9 L1467.9,1211.3 L1471.6,1213.5 L1475.2,1215.6 L1478.8,1217.6 L1482.4,1219.5 L1486.1,1221.4 L1489.7,1223.1 L1493.3,1224.8 L1496.9,1226.4 L1500.5,1227.9 L1504.2,1229.3 L1507.8,1230.7 L1511.4,1232.0" fill="none" stroke="#00ff00" stroke-width="3.4" stroke-linejoin="round" stroke-linecap="butt"/>
<path d="M935.6,821.5 L939.2,821.5 L942.8,821.5 L946.5,821.5 L950.1,821.6 L953.7,821.6 L957.3,821.6 L960.9,821.6 L964.6,821.7 L968.2,821.7 L971.8,821.8 L975.4,821.8 L979.1,821.9 L982.7,821.9 L986.3,822.0 L989.9,822.0 L993.5,822.1 L997.2,822.2 L1000.8,822.3 L1004.4,822.4 L1008.0,822.5 L1011.6,822.6 L1015.3,822.7 L1018.9,822.9 L1022.5,823.0 L1026.1,823.2 L1029.8,823.4 L1033.4,823.6 L1037.0,823.8 L1040.6,824.0 L1044.2,824.3 L1047.9,824.6 L1051.5,824.9 L1055.1,825.2 L1058.7,825.6 L1062.3,826.0 L1066.0,826.4 L1069.6,826.9 L1073.2,827.4 L1076.8,828.0 L1080.5,828.6 L1084.1,829.2 L1087.7,829.9 L1091.3,830.7 L1094.9,831.5 L1098.6,832.3 L1102.2,833.3 L1105.8,834.3 L1109.4,835.4 L1113.0,836.6 L1116.7,837.8 L1120.3,839.2 L1123.9,840.6 L1127.5,842.1 L1131.2,843.8 L1134.8,845.5 L1138.4,847.4 L1142.0,849.4 L1145.6,851.5 L1149.3,853.7 L1152.9,856.0 L1156.5,858.5 L1160.1,861.1 L1163.7,863.9 L1167.4,866.8 L1171.0,869.8 L1174.6,873.0 L1178.2,876.4 L1181.9,879.9 L1185.5,883.5 L1189.1,887.3 L1192.7,891.3 L1196.3,895.4 L1200.0,899.6 L1203.6,904.0 L1207.2,908.6 L1210.8,913.2 L1214.4,918.0 L1218.1,923.0 L1221.7,928.1 L1225.3,933.2 L1228.9,938.5 L1232.6,943.9 L1236.2,949.4 L1239.8,955.0 L1243.4,960.7 L1247.0,966.4 L1250.7,972.3 L1254.3,978.1 L1257.9,984.0 L1261.5,990.0 L1265.1,995.9 L1268.8,1001.9 L1272.4,1007.9 L1276.0,1013.9 L1279.6,1019.9 L1283.3,1025.8 L1286.9,1031.7 L1290.5,1037.6 L1294.1,1043.5 L1297.7,1049.3 L1301.4,1055.0 L1305.0,1060.7 L1308.6,1066.2 L1312.2,1071.7 L1315.8,1077.2 L1319.5,1082.5 L1323.1,1087.7 L1326.7,1092.9 L1330.3,1097.9 L1334.0,1102.8 L1337.6,1107.6 L1341.2,1112.3 L1344.8,1116.9 L1348.4,1121.4 L1352.1,1125.8 L1355.7,1130.0 L1359.3,1134.2 L1362.9,1138.2 L1366.5,1142.1 L1370.2,1145.8 L1373.8,1149.5 L1377.4,1153.1 L1381.0,1156.5 L1384.7,1159.8 L1388.3,1163.0 L1391.9,1166.1 L1395.5,1169.1 L1399.1,1172.0 L1402.8,1174.8 L1406.4,1177.5 L1410.0,1180.1 L1413.6,1182.6 L1417.2,1185.0 L1420.9,1187.3 L1424.5,1189.6 L1428.1,1191.7 L1431.7,1193.8 L1435.4,1195.7 L1439.0,1197.6 L1442.6,1199.5 L1446.2,1201.2 L1449.8,1202.9 L1453.5,1204.5 L1457.1,1206.1 L1460.7,1207.5 L1464.3,1209.0 L1467.9,1210.3 L1471.6,1211.6 L1475.2,1212.9 L1478.8,1214.1 L1482.4,1215.2 L1486.1,1216.3 L1489.7,1217.4 L1493.3,1218.4 L1496.9,1219.3 L1500.5,1220.2 L1504.2,1221.1 L1507.8,1221.9 L1511.4,1222.8" fill="none" stroke="#ff0000" stroke-width="3.4" stroke-linejoin="round" stroke-linecap="butt"/>
<path d="M935.6,805.1 L939.2,805.1 L942.8,805.2 L946.5,805.3 L950.1,805.4 L953.7,805.6 L957.3,805.7 L960.9,805.8 L964.6,805.9 L968.2,806.1 L971.8,806.2 L975.4,806.4 L979.1,806.5 L982.7,806.7 L986.3,806.9 L989.9,807.1 L993.5,807.3 L997.2,807.5 L1000.8,807.7 L1004.4,807.9 L1008.0,808.2 L1011.6,808.4 L1015.3,808.7 L1018.9,809.0 L1022.5,809.3 L1026.1,809.6 L1029.8,809.9 L1033.4,810.2 L1037.0,810.5 L1040.6,810.9 L1044.2,811.3 L1047.9,811.7 L1051.5,812.1 L1055.1,812.5 L1058.7,812.9 L1062.3,813.4 L1066.0,813.9 L1069.6,814.4 L1073.2,814.9 L1076.8,815.4 L1080.5,816.0 L1084.1,816.5 L1087.7,817.1 L1091.3,817.7 L1094.9,818.4 L1098.6,819.0 L1102.2,819.7 L1105.8,820.4 L1109.4,821.2 L1113.0,821.9 L1116.7,822.7 L1120.3,823.5 L1123.9,824.4 L1127.5,825.2 L1131.2,826.1 L1134.8,827.0 L1138.4,828.0 L1142.0,829.0 L1145.6,830.0 L1149.3,831.0 L1152.9,832.1 L1156.5,833.2 L1160.1,834.3 L1163.7,835.5 L1167.4,836.7 L1171.0,837.9 L1174.6,839.2 L1178.2,840.5 L1181.9,841.8 L1185.5,843.2 L1189.1,844.6 L1192.7,846.0 L1196.3,847.5 L1200.0,849.1 L1203.6,850.6 L1207.2,852.2 L1210.8,853.8 L1214.4,855.5 L1218.1,857.2 L1221.7,859.0 L1225.3,860.8 L1228.9,862.6 L1232.6,864.5 L1236.2,866.4 L1239.8,868.4 L1243.4,870.4 L1247.0,872.4 L1250.7,874.5 L1254.3,876.7 L1257.9,878.8 L1261.5,881.1 L1265.1,883.3 L1268.8,885.6 L1272.4,888.0 L1276.0,890.4 L1279.6,892.8 L1283.3,895.3 L1286.9,897.9 L1290.5,900.5 L1294.1,903.1 L1297.7,905.8 L1301.4,908.5 L1305.0,911.3 L1308.6,914.1 L1312.2,916.9 L1315.8,919.8 L1319.5,922.8 L1323.1,925.8 L1326.7,928.9 L1330.3,932.0 L1334.0,935.1 L1337.6,938.3 L1341.2,941.5 L1344.8,944.8 L1348.4,948.2 L1352.1,951.5 L1355.7,955.0 L1359.3,958.5 L1362.9,962.0 L1366.5,965.5 L1370.2,969.2 L1373.8,972.8 L1377.4,976.5 L1381.0,980.3 L1384.7,984.1 L1388.3,987.9 L1391.9,991.8 L1395.5,995.8 L1399.1,999.7 L1402.8,1003.8 L1406.4,1007.8 L1410.0,1012.0 L1413.6,1016.1 L1417.2,1020.3 L1420.9,1024.6 L1424.5,1028.8 L1428.1,1033.2 L1431.7,1037.6 L1435.4,1042.0 L1439.0,1046.4 L1442.6,1050.9 L1446.2,1055.5 L1449.8,1060.0 L1453.5,1064.7 L1457.1,1069.3 L1460.7,1074.0 L1464.3,1078.8 L1467.9,1083.5 L1471.6,1088.4 L1475.2,1093.2 L1478.8,1098.1 L1482.4,1103.0 L1486.1,1108.0 L1489.7,1113.0 L1493.3,1118.0 L1496.9,1123.1 L1500.5,1128.2 L1504.2,1133.3 L1507.8,1138.5 L1511.4,1143.7" fill="none" stroke="#0000ff" stroke-width="3.4" stroke-linejoin="round" stroke-linecap="butt"/>
<circle cx="299.8" cy="54.2" r="11.9" fill="#00ff00"/>
<circle cx="414.8" cy="80.5" r="11.9" fill="#00ff00"/>
<circle cx="530.3" cy="169.5" r="11.9" fill="#00ff00"/>
<circle cx="645.2" cy="390.5" r="11.9" fill="#00ff00"/>
<circle cx="760.5" cy="477.9" r="11.9" fill="#00ff00"/>
<circle cx="299.8" cy="69.5" r="11.9" fill="#ff0000"/>
<circle cx="414.8" cy="88.9" r="11.9" fill="#ff0000"/>
<circle cx="530.3" cy="191.7" r="11.9" fill="#ff0000"/>
<circle cx="645.5" cy="260.0" r="11.9" fill="#ff0000"/>
<circle cx="760.5" cy="307.1" r="11.9" fill="#ff0000"/>
<circle cx="184.4" cy="40.1" r="11.9" fill="#0000ff"/>
<circle cx="299.8" cy="43.9" r="11.9" fill="#0000ff"/>
<circle cx="414.8" cy="114.7" r="11.9" fill="#0000ff"/>
<circle cx="530.3" cy="153.0" r="11.9" fill="#0000ff"/>
<circle cx="645.5" cy="179.7" r="11.9" fill="#0000ff"/>
<circle cx="760.5" cy="334.2" r="11.9" fill="#0000ff"/>
<circle cx="1050.7" cy="64.6" r="11.9" fill="#00ff00"/>
<circle cx="1165.6" cy="131.7" r="11.9" fill="#00ff00"/>
<circle cx="1281.1" cy="171.2" r="11.9" fill="#00ff00"/>
<circle cx="1396.0" cy="353.8" r="11.9" fill="#00ff00"/>
<circle cx="1511.4" cy="437.1" r="11.9" fill="#00ff00"/>
<circle cx="1050.7" cy="91.2" r="11.9" fill="#ff0000"/>
<circle cx="1165.6" cy="127.2" r="11.9" fill="#ff0000"/>
<circle cx="1281.1" cy="240.7" r="11.9" fill="#ff0000"/>
<circle cx="1396.0" cy="420.6" r="11.9" fill="#ff0000"/>
<circle cx="1511.4" cy="478.4" r="11.9" fill="#ff0000"/>
<circle cx="935.3" cy="40.1" r="11.9" fill="#0000ff"/>
<circle cx="1050.7" cy="67.9" r="11.9" fill="#0000ff"/>
<circle cx="1165.6" cy="90.6" r="11.9" fill="#0000ff"/>
<circle cx="1281.1" cy="121.1" r="11.9" fill="#0000ff"/>
<circle cx="1396.0" cy="220.7" r="11.9" fill="#0000ff"/>
<circle cx="1511.4" cy="338.5" r="11.9" fill="#0000ff"/>
<circle cx="299.3" cy="813.3" r="11.9" fill="#00ff00"/>
<circle cx="414.4" cy="852.9" r="11.9" fill="#00ff00"/>
<circle cx="530.1" cy="892.3" r="11.9" fill="#00ff00"/>
<circle cx="645.2" cy="1089.5" r="11.9" fill="#00ff00"/>
<circle cx="760.5" cy="1116.0" r="11.9" fill="#00ff00"/>
<circle cx="299.3" cy="815.6" r="11.9" fill="#ff0000"/>
<circle cx="414.4" cy="852.2" r="11.9" fill="#ff0000"/>
<circle cx="530.1" cy="942.0" r="11.9" fill="#ff0000"/>
<circle cx="645.2" cy="972.9" r="11.9" fill="#ff0000"/>
<circle cx="760.5" cy="1124.1" r="11.9" fill="#ff0000"/>
<circle cx="184.4" cy="797.3" r="11.9" fill="#0000ff"/>
<circle cx="299.3" cy="828.4" r="11.9" fill="#0000ff"/>
<circle cx="414.4" cy="835.1" r="11.9" fill="#0000ff"/>
<circle cx="530.1" cy="911.0" r="11.9" fill="#0000ff"/>
<circle cx="645.2" cy="981.7" r="11.9" fill="#0000ff"/>
<circle cx="760.5" cy="1111.7" r="11.9" fill="#0000ff"/>
<circle cx="1050.5" cy="808.1" r="11.9" fill="#00ff00"/>
<circle cx="1166.0" cy="836.2" r="11.9" fill="#00ff00"/>
<circle cx="1281.1" cy="923.5" r="11.9" fill="#00ff00"/>
<circle cx="1396.0" cy="1144.2" r="11.9" fill="#00ff00"/>
<circle cx="1511.4" cy="1231.6" r="11.9" fill="#00ff00"/>
<circle cx="1050.5" cy="842.3" r="11.9" fill="#ff0000"/>
<circle cx="1166.0" cy="881.1" r="11.9" fill="#ff0000"/>
<circle cx="1281.1" cy="1007.8" r="11.9" fill="#ff0000"/>
<circle cx="1396.0" cy="1187.9" r="11.9" fill="#ff0000"/>
<circle cx="1511.4" cy="1211.5" r="11.9" fill="#ff0000"/>
<circle cx="935.3" cy="793.7" r="11.9" fill="#0000ff"/>
<circle cx="1050.5" cy="809.9" r="11.9" fill="#0000ff"/>
<circle cx="1166.0" cy="859.4" r="11.9" fill="#0000ff"/>
<circle cx="1281.1" cy="890.9" r="11.9" fill="#0000ff"/>
<circle cx="1396.0" cy="986.8" r="11.9" fill="#0000ff"/>
<circle cx="1511.4" cy="1150.3" r="11.9" fill="#0000ff"/>
<text transform="translate(59.2,769.4) rotate(-90)" x="0" y="0" font-size="49.5" text-anchor="middle" font-family="'Liberation Serif','Times New Roman',serif" font-weight="bold">RGLA (%)</text>
<text transform="translate(898.50,1624.00) scale(0.988,1)" font-size="49.5" text-anchor="middle" font-family="'Liberation Serif','Times New Roman',serif" font-weight="bold" >Days after tasseling (d)</text>
</svg>
</body></html>
